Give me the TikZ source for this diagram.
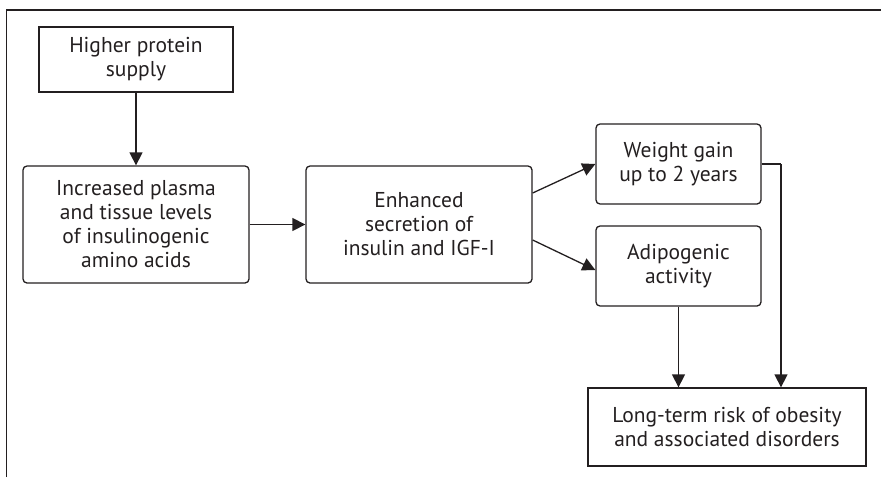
\documentclass[tikz,border=0pt]{standalone}
\usepackage{fontspec}
\setmainfont{PT Sans}
\usetikzlibrary{arrows.meta}
\definecolor{ink}{HTML}{231F20}
\tikzset{
  base/.style={draw=ink, line width=1.3pt, align=center, inner sep=0pt, text=ink,
    font=\fontsize{21.5}{24}\selectfont},
  sqbox/.style={base},
  rbox/.style={base, rounded corners=4pt},
  conn/.style={draw=ink, line width=1.3pt, -{Triangle[length=13pt,width=13pt]}},
  plain/.style={draw=ink, line width=1.3pt}
}
\begin{document}
\begin{tikzpicture}[x=1pt,y=-1pt]
\useasboundingbox (0,0) rectangle (881,477);
\draw[plain] (6.5,477) -- (6.5,10) -- (881,10);
\node[sqbox, minimum width=194pt, minimum height=65pt] (b1) at (136,59.5) {Higher protein\\supply};
\node[rbox, minimum width=226pt, minimum height=117pt] (b2) at (136,224.5) {Increased plasma\\and tissue levels\\of insulinogenic\\amino acids};
\node[rbox, minimum width=226pt, minimum height=117pt] (b3) at (419,224.5) {Enhanced\\secretion of\\insulin and IGF-I};
\node[rbox, minimum width=165pt, minimum height=80pt] (b4) at (678.5,164) {Weight gain\\up to 2 years};
\node[rbox, minimum width=165pt, minimum height=80pt] (b5) at (678.5,266) {Adipogenic\\activity};
\node[sqbox, minimum width=278pt, minimum height=78pt] (b6) at (727,427) {Long-term risk of obesity\\and associated disorders};
\coordinate (c1) at (781,164);
\draw[conn] (b1.south) -- (b2.north);
\draw[conn] (b2.east) -- (b3.west);
\draw[conn] ([yshift=31.5pt]b3.east) -- (b4.west);
\draw[conn] ([yshift=-15.5pt]b3.east) -- ([yshift=-4pt]b5.west);
\draw[conn] (b5.south) -- (b5.south |- b6.north);
\draw[plain] (b4.east) -- (c1);
\draw[conn] (c1) -- (c1 |- b6.north);
\end{tikzpicture}
\end{document}
